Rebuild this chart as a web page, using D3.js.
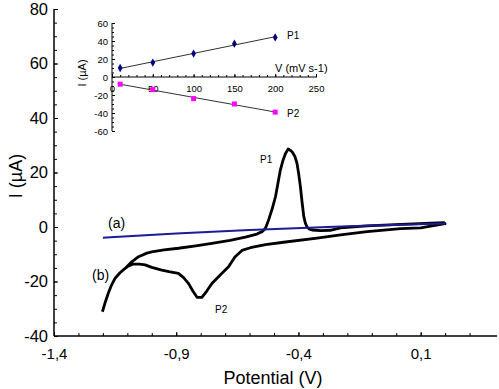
<!DOCTYPE html>
<html>
<head>
<meta charset="utf-8">
<script src="https://cdn.jsdelivr.net/npm/d3@7"></script>
<style>
body { margin:0; background:#fff; }
text { font-family: "Liberation Sans", Arial, sans-serif; }
</style>
</head>
<body>
<script>
// main chart: potential (V) vs current (uA)
var xTicksMain = [-1.4, -0.9, -0.4, 0.1];
var yTicksMain = [-40, -20, 0, 20, 40, 60, 80];

// curve (a): blank electrode
var curveA = [[-1.2, -3.9], [-0.9, -2.4], [-0.6, -1.1], [-0.2, 0.3], [0.2, 1.3]];

// curve (b): full cycle
var curveB = [
  [-1.202, -31.1], [-1.19, -27.5], [-1.178, -24.3], [-1.165, -21.4], [-1.15, -18.8],
  [-1.13, -16.8], [-1.109, -15.2], [-1.085, -13.0], [-1.054, -10.9], [-1.02, -9.6],
  [-1.0, -9.1], [-0.95, -8.4], [-0.891, -7.8], [-0.82, -6.9], [-0.754, -6.0],
  [-0.68, -4.9], [-0.617, -3.7], [-0.57, -2.6], [-0.549, -1.7], [-0.535, -0.5],
  [-0.522, 2.6], [-0.508, 6.5], [-0.494, 11.1], [-0.484, 16.0], [-0.474, 20.9],
  [-0.463, 24.5], [-0.453, 27.0], [-0.442, 28.6], [-0.434, 28.2], [-0.426, 27.6],
  [-0.415, 26.0], [-0.406, 23.4], [-0.399, 19.5], [-0.392, 14.8], [-0.385, 9.0],
  [-0.378, 3.8], [-0.372, 1.5], [-0.365, 0.0], [-0.355, -0.8], [-0.344, -1.1],
  [-0.31, -1.3], [-0.27, -1.2], [-0.228, -0.3], [-0.119, 0.4], [0.018, 1.0],
  [0.195, 1.6], [0.2, 1.2], [0.1, -0.3], [0.018, -0.6], [-0.119, -1.7],
  [-0.228, -2.9], [-0.324, -4.1], [-0.461, -5.6], [-0.535, -6.5], [-0.597, -7.6],
  [-0.631, -8.6], [-0.66, -11.0], [-0.686, -14.6], [-0.72, -17.6], [-0.754, -20.7],
  [-0.775, -23.5], [-0.795, -25.8], [-0.815, -25.8], [-0.832, -23.5], [-0.85, -20.7],
  [-0.87, -18.6], [-0.891, -17.0], [-0.93, -16.4], [-0.959, -15.8], [-1.0, -14.8],
  [-1.027, -13.9], [-1.05, -13.6], [-1.075, -13.6], [-1.095, -14.3], [-1.109, -15.2]
];

// inset: peak current vs scan rate
var scanRate = [10, 50, 100, 150, 200];
var peakP1 = [10, 16, 26, 37, 44];
var peakP2 = [-8, -14, -24, -30, -39];
var xTicksInset = [0, 50, 100, 150, 200, 250];
var yTicksInset = [-60, -40, -20, 0, 20, 40, 60];

var w = 499, h = 389;
var svg = d3.select("body").append("svg").attr("width", w).attr("height", h);

var loc = d3.formatLocale({decimal: ",", thousands: ".", grouping: [3], currency: ["", ""], minus: "-"});
var fmt1 = loc.format(".1f");
var fmt0 = loc.format("d");

var x = d3.scaleLinear().domain([-1.4, 0.4]).range([54, 494]);
var y = d3.scaleLinear().domain([-40, 80]).range([336, 9]);

// minor ticks
svg.append("g").attr("transform", "translate(0,336)")
  .call(d3.axisBottom(x).tickValues(d3.range(-14, 4).map(function(d){ return d / 10; })).tickSize(-3).tickFormat(""))
  .call(function(g){ g.select(".domain").remove(); });
svg.append("g").attr("transform", "translate(54,0)")
  .call(d3.axisLeft(y).tickValues(d3.range(-40, 81, 5)).tickSize(-3).tickFormat(""))
  .call(function(g){ g.select(".domain").remove(); });

// main axes with labels
var gx = svg.append("g").attr("transform", "translate(0,336)")
  .call(d3.axisBottom(x).tickValues(xTicksMain).tickSize(-4).tickPadding(12).tickFormat(fmt1));
gx.select(".domain").attr("d", "M54,0H497").attr("stroke-width", 1.5);
gx.selectAll("text").attr("font-size", 15).attr("font-family", "Liberation Sans, Arial");

var gy = svg.append("g").attr("transform", "translate(54,0)")
  .call(d3.axisLeft(y).tickValues(yTicksMain).tickSize(-4).tickPadding(6).tickFormat(fmt0));
gy.select(".domain").attr("d", "M0,9V336").attr("stroke-width", 1.5);
gy.selectAll("text").attr("font-size", 16.5).attr("font-family", "Liberation Sans, Arial");

svg.selectAll(".tick line").attr("stroke", "#000");

svg.append("text").attr("x", 273).attr("y", 384).attr("text-anchor", "middle")
  .attr("font-size", 18).text("Potential (V)");
svg.append("text").attr("transform", "translate(22,176) rotate(-90)").attr("text-anchor", "middle")
  .attr("font-size", 18).text("I (µA)");

var line = d3.line().x(function(d){ return x(d[0]); }).y(function(d){ return y(d[1]); });

svg.append("path").datum(curveB).attr("d", line)
  .attr("fill", "none").attr("stroke", "#000").attr("stroke-width", 2.8).attr("stroke-linejoin", "round");
svg.append("path").datum(curveA).attr("d", d3.line().curve(d3.curveMonotoneX).x(function(d){ return x(d[0]); }).y(function(d){ return y(d[1]); }))
  .attr("fill", "none").attr("stroke", "#1c1c96").attr("stroke-width", 2);

svg.append("text").attr("x", 108).attr("y", 228).attr("font-size", 14).text("(a)");
svg.append("text").attr("x", 92).attr("y", 280).attr("font-size", 14).text("(b)");
svg.append("text").attr("x", 260).attr("y", 163).attr("font-size", 10).text("P1");
svg.append("text").attr("x", 215).attr("y", 313).attr("font-size", 10).text("P2");

// inset
var ix = d3.scaleLinear().domain([0, 250]).range([112, 316]);
var iy = d3.scaleLinear().domain([-60, 60]).range([131, 23]);
var inset = svg.append("g");

inset.append("g").attr("transform", "translate(0,77)")
  .call(d3.axisBottom(ix).tickValues(d3.range(0, 251, 10)).tickSize(-2).tickFormat(""))
  .call(function(g){ g.select(".domain").remove(); });
inset.append("g").attr("transform", "translate(112,0)")
  .call(d3.axisLeft(iy).tickValues(d3.range(-60, 61, 5)).tickSize(-2).tickFormat(""))
  .call(function(g){ g.select(".domain").remove(); });

var igx = inset.append("g").attr("transform", "translate(0,77)")
  .call(d3.axisBottom(ix).tickValues(xTicksInset).tickSize(-3).tickPadding(8).tickFormat(fmt0));
igx.select(".domain").attr("d", "M112,0H317");
igx.selectAll("text").attr("font-size", 9.5).attr("font-family", "Liberation Sans, Arial");
var igy = inset.append("g").attr("transform", "translate(112,0)")
  .call(d3.axisLeft(iy).tickValues(yTicksInset).tickSize(-3).tickPadding(4).tickFormat(fmt0));
igy.select(".domain").attr("d", "M0,23V131");
igy.selectAll("text").attr("font-size", 9.5).attr("font-family", "Liberation Sans, Arial");
inset.selectAll(".tick line").attr("stroke", "#000");

inset.append("text").attr("transform", "translate(86,73) rotate(-90)").attr("text-anchor", "middle")
  .attr("font-size", 11).text("I (µA)");
inset.append("text").attr("x", 275).attr("y", 72).attr("font-size", 11).text("V (mV s-1)");

function fit(xs, ys){
  var mx = d3.mean(xs), my = d3.mean(ys);
  var sxy = d3.sum(xs, function(v, i){ return (v - mx) * (ys[i] - my); });
  var sxx = d3.sum(xs, function(v){ return (v - mx) * (v - mx); });
  var b = sxy / sxx;
  return function(v){ return my + b * (v - mx); };
}

[[peakP1, "#000080", "P1", 39], [peakP2, "#ff00ff", "P2", 117]].forEach(function(s){
  var f = fit(scanRate, s[0]);
  var x0 = d3.min(scanRate), x1 = d3.max(scanRate);
  inset.append("line").attr("x1", ix(x0)).attr("y1", iy(f(x0))).attr("x2", ix(x1)).attr("y2", iy(f(x1)))
    .attr("stroke", "#333").attr("stroke-width", 1);
  if (s[2] == "P1") {
    inset.selectAll(".m1").data(scanRate).enter().append("path").attr("class", "m1")
      .attr("d", d3.symbol().type(d3.symbolDiamond).size(20))
      .attr("transform", function(d, i){ return "translate(" + ix(d) + "," + iy(s[0][i]) + ")"; })
      .attr("fill", s[1]);
  } else {
    inset.selectAll(".m2").data(scanRate).enter().append("rect").attr("class", "m2")
      .attr("x", function(d){ return ix(d) - 2.5; })
      .attr("y", function(d, i){ return iy(s[0][i]) - 2.5; })
      .attr("width", 5).attr("height", 5)
      .attr("fill", s[1]);
  }
  inset.append("text").attr("x", 287).attr("y", s[3]).attr("font-size", 10).text(s[2]);
});
</script>
</body>
</html>
